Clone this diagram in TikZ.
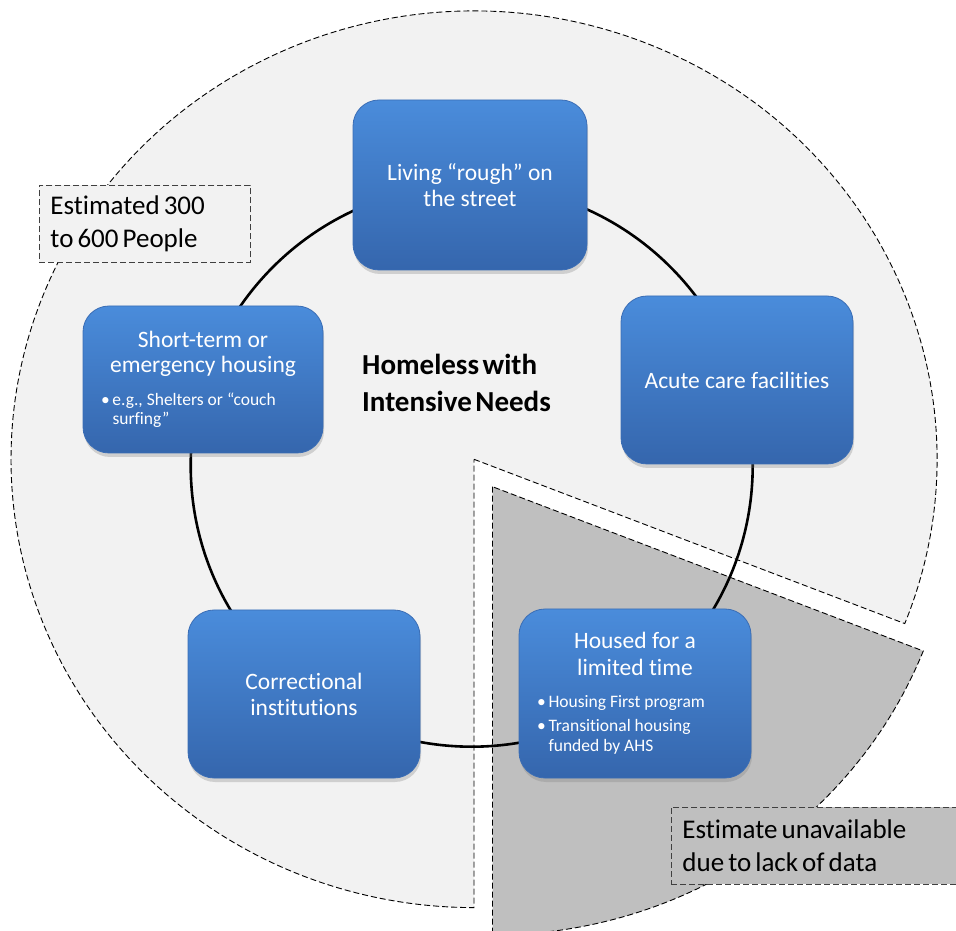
\documentclass[tikz,border=0pt]{standalone}
\usepackage{fontspec}
\setmainfont{Carlito}[Ligatures=NoCommon]
\newfontfamily\tightfont{Carlito}[Ligatures=NoCommon, WordSpace=0.55]
\usetikzlibrary{shadows}
\definecolor{lightfill}{HTML}{F2F2F2}
\definecolor{grayfill}{HTML}{BFBFBF}
\definecolor{boxtop}{HTML}{4A8CDB}
\definecolor{boxbot}{HTML}{3566AD}
\definecolor{boxedge}{HTML}{3A6DB5}
\definecolor{noteedge}{HTML}{404040}
\newcommand\bitem[1]{\par\hangindent=11.5pt\hangafter=1\noindent\makebox[11.5pt][l]{\textbullet}#1}
\begin{document}
\begin{tikzpicture}[x=1pt,y=1pt,
  slicestyle/.style={draw=black, dash pattern=on 6pt off 3pt, line width=0.9pt},
  bluebox/.style={rectangle, rounded corners=26pt, top color=boxtop, bottom color=boxbot,
    draw=boxedge, line width=0.8pt, text=white, inner sep=0pt, align=center,
    drop shadow={opacity=0.3, shadow xshift=1pt, shadow yshift=-4pt}},
  titletext/.style={font=\fontsize{23.5}{26}\selectfont},
  notebox/.style={rectangle, draw=noteedge, dash pattern=on 6pt off 3pt, line width=0.9pt,
    align=left, anchor=north west, inner xsep=11pt, inner ysep=0pt,
    font=\tightfont\fontsize{27}{32.5}\selectfont, text=black},
  ringstyle/.style={circle, draw=black, line width=2.6pt, inner sep=0pt, minimum size=562pt}
]
\path[use as bounding box, clip] (0,0) rectangle (956,930);

% exploded pie: light slice and gray slice
\draw[slicestyle, fill=lightfill] (474,470.7) -- ++(-21.5:463pt and 448.3pt)
  arc[start angle=-21.5, end angle=270, x radius=463pt, y radius=448.3pt] -- cycle;
\draw[slicestyle, fill=grayfill] (492.5,443.3) -- ++(-90:463pt and 448.3pt)
  arc[start angle=-90, end angle=-21.5, x radius=463pt, y radius=448.3pt] -- cycle;

% cycle ring
\node[ringstyle] (ring) at (471.7,464.3) {};

% boxes
\node[bluebox, titletext, minimum width=234pt, minimum height=170pt] (street) at (470,745)
  {Living “rough” on\\the street};
\node[bluebox, minimum width=240pt, minimum height=147pt] (shortterm) at (203,550.5)
  {\begin{minipage}{204pt}\centering\fontsize{23.5}{25}\selectfont Short-term or\\emergency housing\par
   \vspace{13pt}\raggedright\fontsize{17.5}{19.5}\selectfont
   \bitem{e.g., Shelters or “couch\newline surfing”}\par\end{minipage}};
\node[bluebox, titletext, minimum width=232pt, minimum height=168pt] (acute) at (737,550)
  {Acute care facilities};
\node[bluebox, titletext, minimum width=232pt, minimum height=168pt] (correctional) at (304,236)
  {Correctional\\institutions};
\node[bluebox, minimum width=232pt, minimum height=169pt] (housed) at (635,236.5)
  {\begin{minipage}{196pt}\centering\fontsize{23.5}{26.5}\selectfont Housed for a\\limited time\par
   \vspace{12pt}\raggedright\fontsize{17.5}{20}\selectfont
   \bitem{Housing First program}\par\vspace{4pt}
   \bitem{Transitional housing\newline funded by AHS}\par\end{minipage}};

% centre title
\node[anchor=west, align=left, inner sep=0pt, font=\tightfont\bfseries\fontsize{29}{37}\selectfont, text=black] (title)
  at (362,547.5) {Homeless with\\Intensive Needs};

% note boxes
\node[notebox, fill=lightfill, text width=189pt, minimum height=77pt] (estimate) at (39,745)
  {\spaceskip=0.15em\relax Estimated 300\\to 600 People};
\node[notebox, fill=grayfill, text width=290pt, minimum height=77pt] (unavail) at (671,123)
  {\spaceskip=0.15em\relax Estimate unavailable\\due to lack of data};
\end{tikzpicture}
\end{document}
